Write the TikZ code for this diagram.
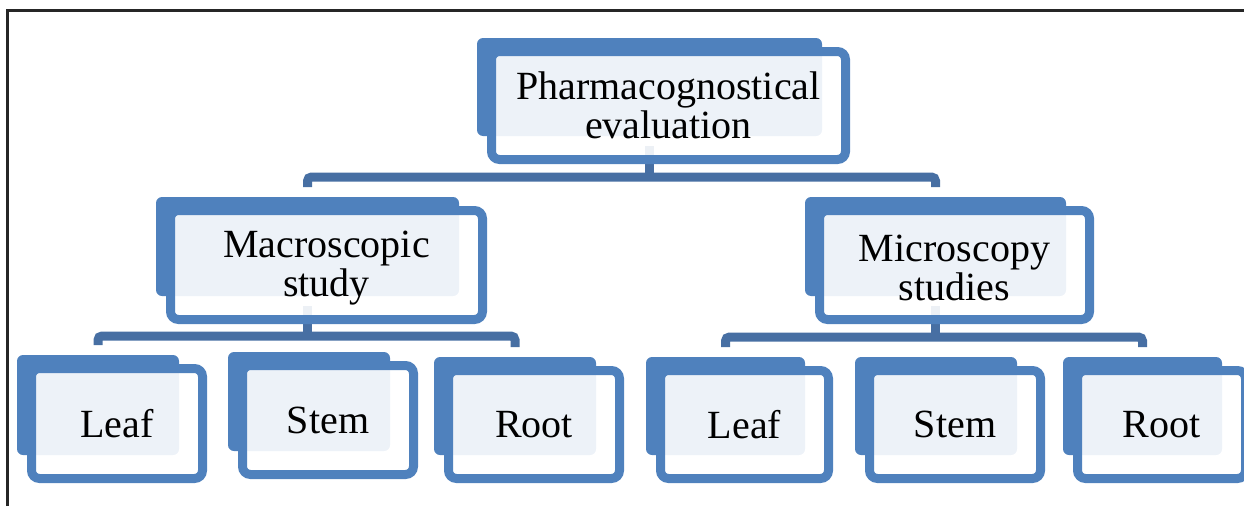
\documentclass[tikz,border=0pt]{standalone}
\usepackage{fontspec}
\setmainfont{Liberation Serif}
\usetikzlibrary{calc,backgrounds,fit}
\definecolor{boxblue}{RGB}{79,129,189}
\definecolor{connblue}{RGB}{71,111,163}
\tikzset{
  frontbox/.style={draw=boxblue, line width=9pt, rounded corners=8pt,
    fill=white, fill opacity=0.9, text opacity=1, align=center,
    font=\fontsize{40}{39}\selectfont, inner sep=0pt, outer sep=0pt},
  backbox/.style={fill=boxblue, rounded corners=6pt, inner sep=0pt, outer sep=0pt},
  conn/.style={draw=connblue, line width=9pt, rounded corners=4pt},
  frameline/.style={draw=black!85, line width=2.6pt}
}
\newcommand\twobox[6]{%
  \node[frontbox, minimum width=#4pt, minimum height=#5pt] (#1) at (#2,#3) {#6};
  \coordinate (#1-tl) at ($(#1.north west)+(-14.5,-13.5)$);
  \coordinate (#1-br) at ($(#1.south east)+(-23.5,-23.5)$);
  \begin{scope}[on background layer]
    \node[backbox, fit=(#1-tl)(#1-br)] (#1-back) {};
  \end{scope}
}
\begin{document}
\begin{tikzpicture}[x=1pt,y=-1pt]
\useasboundingbox (0,0) rectangle (1244,506);
\draw[frameline] (7.5,506) -- (7.5,10.5) -- (1244,10.5);

\twobox{top}{668.5}{105.5}{354}{108}{Pharmacognostical\\evaluation}
\twobox{macro}{326.5}{265}{312}{109}{\rule{0pt}{33pt}Macroscopic\\study}
\twobox{micro}{954.5}{265}{270}{109}{\rule{0pt}{33pt}Microscopy\\studies}
\twobox{leafA}{117}{423.5}{171}{110}{Leaf}
\twobox{stemA}{328}{420}{171}{109}{Stem}
\twobox{rootA}{534}{424.5}{171}{108}{Root}
\twobox{leafB}{744.5}{424.5}{168}{108}{Leaf}
\twobox{stemB}{955}{424.5}{171}{108}{Stem}
\twobox{rootB}{1161.5}{424.5}{168}{108}{Root}

\begin{scope}[on background layer]
  % level 1
  \draw[conn] ($(top-back.south)+(0,10)$) -- ($(top-back.south |- macro-back.north)+(0,-20)$);
  \draw[conn] ($(macro-back.north)+(0,-10)$) -- ($(macro-back.north)+(0,-20)$)
     -| ($(micro-back.north)+(0,-10)$);
  % level 2 left
  \draw[conn] ($(macro-back.south)+(0,10)$) -- ($(macro-back.south |- leafA-back.north)+(0,-19)$);
  \draw[conn] ($(leafA-back.north)+(0,-10)$) -- ($(leafA-back.north)+(0,-19)$)
     -| ($(rootA-back.north)+(0,-10)$);
  % level 2 right
  \draw[conn] ($(micro-back.south)+(0,10)$) -- ($(micro-back.south |- leafB-back.north)+(0,-20)$);
  \draw[conn] ($(leafB-back.north)+(0,-10)$) -- ($(leafB-back.north)+(0,-20)$)
     -| ($(rootB-back.north)+(0,-10)$);
\end{scope}
\end{tikzpicture}
\end{document}
